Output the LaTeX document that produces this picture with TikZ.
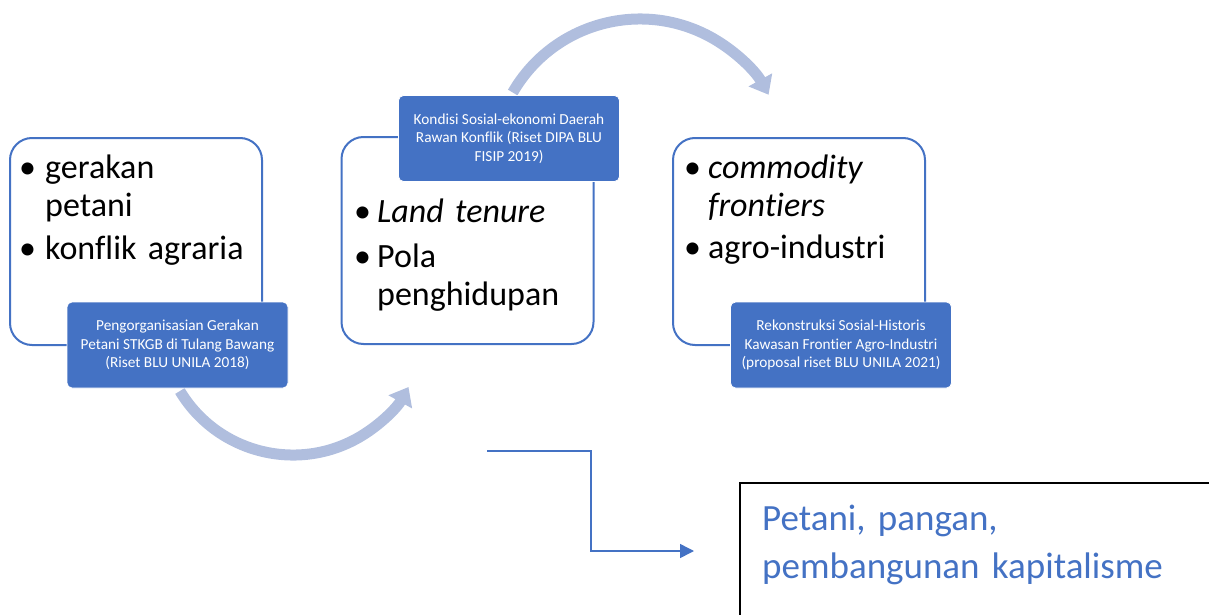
\documentclass[tikz,border=0pt]{standalone}
\usepackage{fontspec}
\setmainfont[Ligatures=NoCommon]{Carlito}
\usetikzlibrary{arrows.meta}
\definecolor{accent}{HTML}{4472C4}
\definecolor{arcblue}{RGB}{176,190,222}
\begin{document}
\begin{tikzpicture}[x=1pt,y=-1pt,
  panel/.style={draw=accent, line width=2pt, rounded corners=22pt, minimum width=252pt, minimum height=207pt, inner sep=0pt},
  tag/.style={fill=accent, draw=white, line width=0.8pt, rounded corners=5pt, minimum width=221pt, minimum height=86pt, text=white, align=center, font=\fontsize{15.3}{18.5}\selectfont, inner sep=0pt},
  bul/.style={anchor=base west, inner sep=0pt, font=\fontsize{34}{38}\selectfont},
  itemtext/.style={anchor=base west, inner sep=0pt, align=left, text width=215pt, font=\fontsize{34}{38}\selectfont},
  bigarc/.style={draw=arcblue, line width=11pt, -{Triangle[width=26pt,length=17pt]}},
  elbow/.style={draw=accent, line width=1.5pt, -{Triangle[width=14pt,length=14pt]}},
  result/.style={draw=black, line width=1.5pt, anchor=north west, minimum width=490pt, minimum height=150pt, inner sep=0pt},
  resulttext/.style={anchor=base west, inner sep=0pt, align=left, text width=440pt, text=accent, font=\fontsize{37}{48}\selectfont}
]
\useasboundingbox (0,0) rectangle (1209,615);
\clip (0,0) rectangle (1209,615);

% panels
\node[panel] (p1) at (136,241.5) {};
\node[panel] (p2) at (467.5,240.5) {};
\node[panel] (p3) at (799,241.5) {};

% panel 1 items
\node[bul] (b1a) at (19,178) {•};
\node[itemtext] (t1a) at (45,178) {gerakan\\petani};
\node[bul] (b1b) at (19,259) {•};
\node[itemtext] (t1b) at (45,259) {konflik agraria};

% panel 2 items
\node[bul] (b2a) at (354,222) {•};
\node[itemtext] (t2a) at (377,222) {\itshape Land tenure};
\node[bul] (b2b) at (354,267) {•};
\node[itemtext] (t2b) at (377,267) {Pola\\penghidupan};

% panel 3 items
\node[bul] (b3a) at (684,178) {•};
\node[itemtext] (t3a) at (708,178) {\itshape commodity\\frontiers};
\node[bul] (b3b) at (684,258) {•};
\node[itemtext] (t3b) at (708,258) {agro-industri};

% curved arrows
\coordinate (a1) at (512.7,92.5);
\draw[bigarc] (a1) arc[start angle=210, end angle=331, radius=147];
\coordinate (a2) at (179.9,391);
\draw[bigarc] (a2) arc[start angle=149, end angle=29, radius=132];

% labels
\node[tag] (l1) at (177.5,345) {Pengorganisasian Gerakan\\Petani STKGB di Tulang Bawang\\(Riset BLU UNILA 2018)};
\node[tag] (l2) at (509,138.5) {Kondisi Sosial-ekonomi Daerah\\Rawan Konflik (Riset DIPA BLU\\FISIP 2019)};
\node[tag] (l3) at (841,345) {Rekonstruksi Sosial-Historis\\Kawasan Frontier Agro-Industri\\(proposal riset BLU UNILA 2021)};

% elbow connector
\coordinate (e0) at (487,451);
\coordinate (ek) at (591,451);
\coordinate (e1) at (694,551);
\draw[elbow] (e0) -- (ek) |- (e1);

% result box
\node[result] (res) at (739,482) {};
\node[resulttext] (rest) at (762,530) {Petani, pangan,\\pembangunan kapitalisme};
\end{tikzpicture}
\end{document}
